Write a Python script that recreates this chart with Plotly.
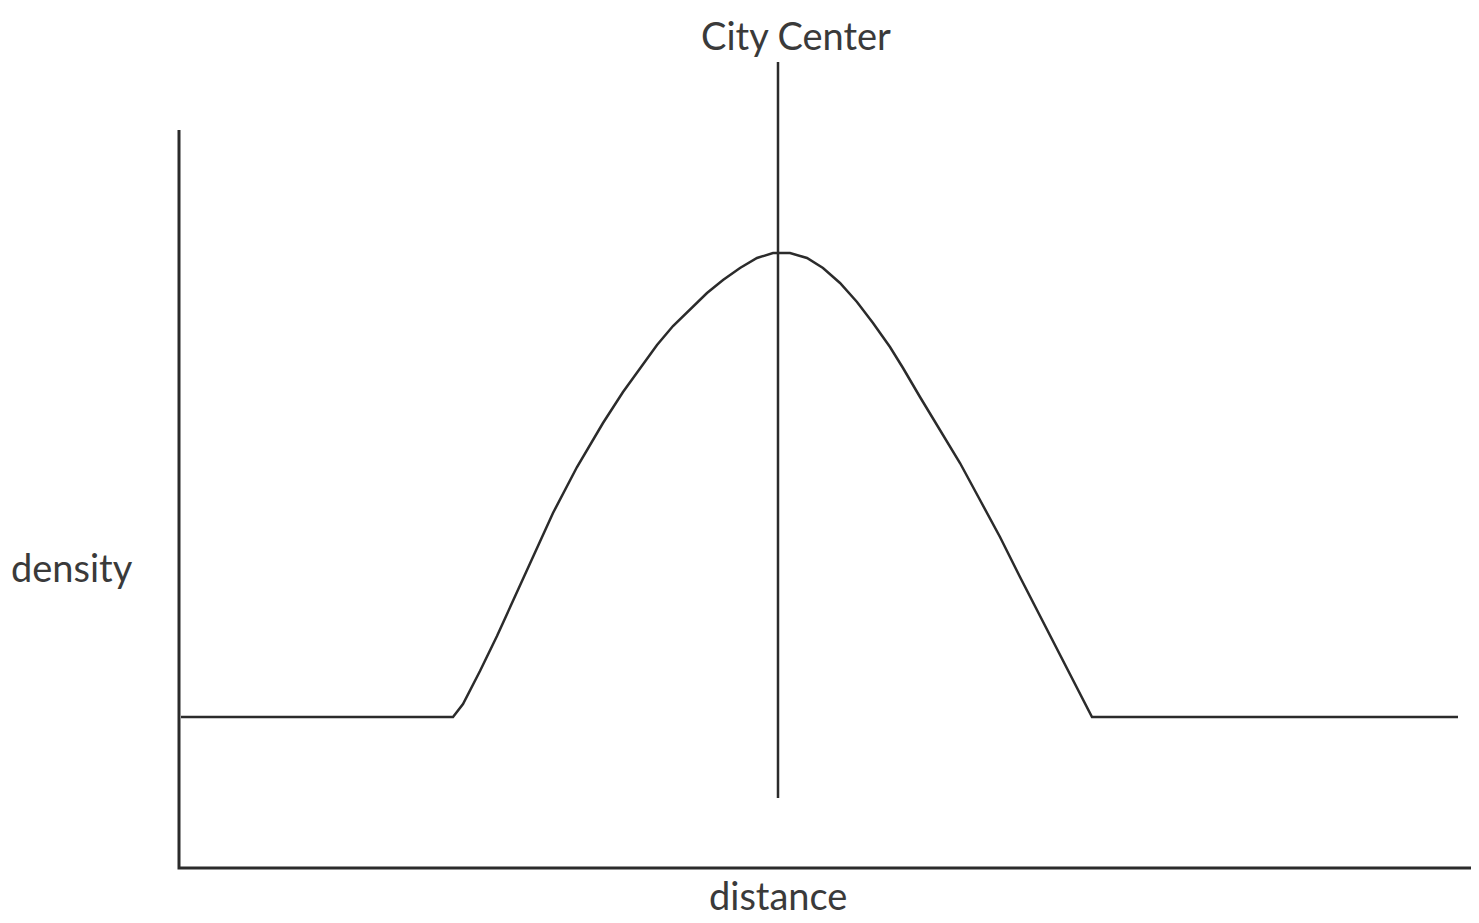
import plotly.graph_objects as go

# density profile across the city (arbitrary units)
distance = [2, 274, 284, 301, 318, 334, 349, 374, 398, 424, 444, 461, 478, 494,
            511, 528, 544, 561, 578, 594, 611, 628, 644, 661, 678, 694, 711, 724,
            741, 761, 781, 801, 821, 841, 858, 874, 891, 908, 913, 1279]
density = [151, 151, 164, 197, 232, 267, 300, 355, 401, 445, 476, 500, 523, 542,
           559, 575, 588, 600, 610, 615, 615, 610, 600, 585, 566, 545, 521, 500,
           471, 438, 405, 368, 331, 291, 258, 227, 194, 161, 151, 151]

city_center = 599
center_line = [70, 806]
axis_x_end = 1293
axis_y_end = 738

ink = "#2b2b2b"
fnt = dict(family="Lato, Open Sans, sans-serif", size=38, color="#3a3a3a")

fig = go.Figure()

# axes drawn as plain lines
fig.add_trace(go.Scatter(x=[0, 0, axis_x_end], y=[axis_y_end, 0, 0], mode="lines",
                         line=dict(color=ink, width=3), hoverinfo="skip"))
# city center marker
fig.add_trace(go.Scatter(x=[city_center, city_center], y=center_line, mode="lines",
                         line=dict(color=ink, width=2.5), hoverinfo="skip"))
# density curve
fig.add_trace(go.Scatter(x=distance, y=density, mode="lines",
                         line=dict(color=ink, width=2.5, shape="linear")))

fig.add_annotation(x=617, y=833, text="City Center", showarrow=False, font=fnt)
fig.add_annotation(x=-107, y=301, text="density", showarrow=False, font=fnt)
fig.add_annotation(x=599, y=-27, text="distance", showarrow=False, font=fnt)

# ranges offset by the 8px page margin
fig.update_xaxes(visible=False, range=[-171, 1308])
fig.update_yaxes(visible=False, range=[-63, 860])
fig.update_layout(
    width=1479, height=923,
    margin=dict(t=0, l=0, r=0, b=0),
    paper_bgcolor="white", plot_bgcolor="white",
    showlegend=False,
)

fig.write_html("out.html")
